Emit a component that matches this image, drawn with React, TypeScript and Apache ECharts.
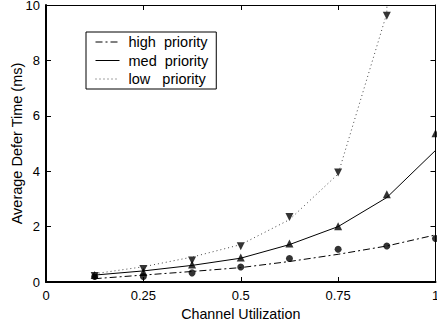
import React, { useEffect, useRef } from "react";
import * as echarts from "echarts";

const xs = [0.125, 0.25, 0.375, 0.5, 0.625, 0.75, 0.875, 1.0];
const highLine = [0.12, 0.25, 0.38, 0.52, 0.74, 1.0, 1.3, 1.7];
const medLine = [0.25, 0.4, 0.6, 0.86, 1.35, 2.0, 3.05, 4.75];
const lowLine = [0.3, 0.55, 0.9, 1.35, 2.25, 3.9, 9.7, 150];
const highMarks = [0.2, 0.2, 0.33, 0.54, 0.85, 1.18, 1.3, 1.57];
const medMarks = [0.25, 0.36, 0.63, 0.88, 1.39, 2.01, 3.17, 5.37];
const lowMarks = [0.22, 0.47, 0.78, 1.29, 2.35, 3.95, 9.61];
const seriesNames = ["high  priority", "med  priority", "low   priority"];
const xTicks = [0, 0.25, 0.5, 0.75, 1];
const yTicks = [0, 2, 4, 6, 8, 10];

const FONT = "Liberation Sans, Arial, Helvetica, sans-serif";

const pair = (vals: number[]) => vals.map((v, i) => [xs[i], v]);

export default function App() {
  const ref = useRef<HTMLDivElement>(null);
  useEffect(() => {
    if (!ref.current) return;
    const chart = echarts.init(ref.current, null, { renderer: "svg" });
    const xMin = xTicks[0];
    const xMax = xTicks[xTicks.length - 1];
    const yMin = yTicks[0];
    const yMax = yTicks[yTicks.length - 1];
    const baseX = {
      type: "value",
      min: xMin,
      max: xMax,
      interval: 0.25,
      splitLine: { show: false },
    };
    const baseY = {
      type: "value",
      min: yMin,
      max: yMax,
      interval: 2,
      splitLine: { show: false },
    };
    chart.setOption({
      animation: false,
      backgroundColor: "#fff",
      grid: {
        left: 46,
        right: 1.5,
        top: 5,
        bottom: 42,
        show: false,
        containLabel: false,
        outerBoundsMode: "none",
      },
      legend: {
        data: seriesNames,
        left: 86,
        top: 32,
        orient: "vertical",
        backgroundColor: "#fff",
        borderColor: "#000",
        borderWidth: 1,
        borderRadius: 0,
        padding: [2.5, 8, 2.5, 9],
        itemWidth: 24,
        itemHeight: 14,
        itemGap: 3.5,
        selectedMode: false,
        itemStyle: { color: "rgba(0,0,0,0)", borderWidth: 0, opacity: 0 },
        lineStyle: { width: 1 },
        textStyle: {
          fontFamily: FONT,
          fontSize: 14.5,
          color: "#000",
          lineHeight: 14,
          padding: [0, 0, 0, 4],
        },
      },
      xAxis: [
        {
          ...baseX,
          position: "bottom",
          name: "Channel Utilization",
          nameLocation: "middle",
          nameGap: 18,
          nameTextStyle: { fontFamily: FONT, fontSize: 14.3, color: "#000", verticalAlign: "top" },
          axisLine: { show: true, onZero: false, lineStyle: { color: "#000", width: 2 } },
          axisTick: { show: true, inside: true, length: 5, lineStyle: { color: "#000" } },
          axisLabel: { fontFamily: FONT, fontSize: 13, color: "#000", margin: 7 },
        },
        {
          ...baseX,
          position: "top",
          axisLine: { show: true, onZero: false, lineStyle: { color: "#000", width: 1 } },
          axisTick: { show: true, inside: true, length: 5, lineStyle: { color: "#000" } },
          axisLabel: { show: false },
        },
      ],
      yAxis: [
        {
          ...baseY,
          position: "left",
          name: "Average Defer Time (ms)",
          nameLocation: "middle",
          nameGap: 29,
          nameMoveOverlap: false,
          nameTextStyle: {
            fontFamily: FONT,
            fontSize: 14.5,
            color: "#000",
            verticalAlign: "middle",
          },
          axisLine: { show: true, onZero: false, lineStyle: { color: "#000", width: 2 } },
          axisTick: { show: true, inside: true, length: 5, lineStyle: { color: "#000" } },
          axisLabel: { fontFamily: FONT, fontSize: 13, color: "#000", margin: 6 },
        },
        {
          ...baseY,
          position: "right",
          axisLine: { show: true, onZero: false, lineStyle: { color: "#000", width: 1 } },
          axisTick: { show: true, inside: true, length: 5, lineStyle: { color: "#000" } },
          axisLabel: { show: false },
        },
      ],
      series: [
        {
          name: seriesNames[0],
          type: "line",
          data: pair(highLine),
          symbol: "none",
          clip: true,
          color: "#000",
          lineStyle: { color: "#000", width: 1, type: [7, 3, 2, 3] },
        },
        {
          name: seriesNames[1],
          type: "line",
          data: pair(medLine),
          symbol: "none",
          clip: true,
          color: "#000",
          lineStyle: { color: "#000", width: 1, type: "solid" },
        },
        {
          name: seriesNames[2],
          type: "line",
          data: pair(lowLine),
          symbol: "none",
          clip: true,
          color: "#000",
          lineStyle: { color: "#444", width: 1, type: [1, 3] },
        },
        {
          name: "high pts",
          type: "scatter",
          data: pair(highMarks),
          symbol: "circle",
          symbolSize: 7,
          itemStyle: { color: "#000" },
        },
        {
          name: "med pts",
          type: "scatter",
          data: pair(medMarks),
          symbol: "triangle",
          symbolSize: 8,
          itemStyle: { color: "#000" },
        },
        {
          name: "low pts",
          type: "scatter",
          data: pair(lowMarks),
          symbol: "triangle",
          symbolRotate: 180,
          symbolSize: 8,
          itemStyle: { color: "#000" },
        },
      ],
    });
    return () => chart.dispose();
  }, []);
  return (
    <div
      ref={ref}
      style={{ position: "absolute", left: 0, top: 0, width: 437, height: 324 }}
    />
  );
}
